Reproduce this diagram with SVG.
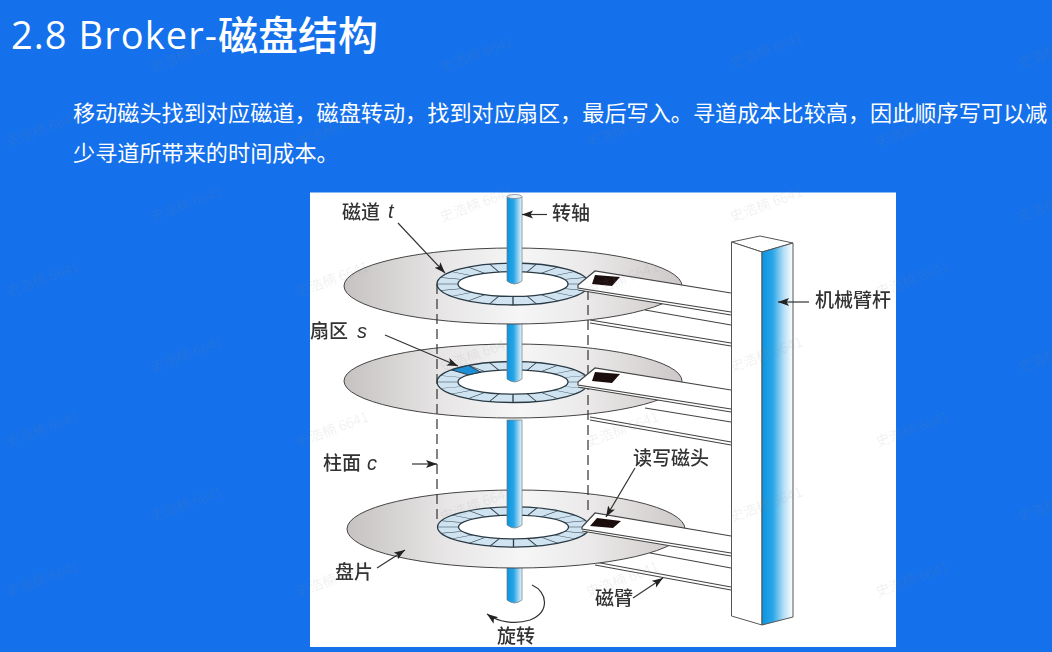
<svg xmlns="http://www.w3.org/2000/svg" xmlns:xlink="http://www.w3.org/1999/xlink" width="1052" height="652" viewBox="0 0 1052 652">
<style>
.title{font-family:"Open Sans","Noto Sans","Noto Sans CJK SC",sans-serif;font-size:38px;fill:#fff}
.titlecjk{font-family:"Noto Sans CJK SC",sans-serif;font-size:40px;font-weight:500;fill:#fff}
.body{font-family:"Noto Sans CJK SC",sans-serif;font-size:22.15px;fill:#fff}
.lab{font-family:"Noto Sans CJK SC",sans-serif;font-size:19px;font-weight:500;fill:#333}
.it{font-family:"Liberation Sans",sans-serif;font-size:20px;font-style:italic;fill:#333}
.wm{font-family:"Noto Sans CJK SC",sans-serif;font-size:14px;fill:#8a8a8a;fill-opacity:.13}
.pl{fill:url(#plate);stroke:#444;stroke-width:1}
.sp{fill:url(#spin);stroke:#777;stroke-width:.7}
.arm{fill:#fff;stroke:none}
.ln{fill:none;stroke:#444;stroke-width:1.2}
.head{fill:#1e0c0c}
.dash{fill:none;stroke:#333;stroke-width:1.2;stroke-dasharray:10 5}
.ar{fill:none;stroke:#333;stroke-width:1.2;marker-end:url(#ah)}
.r{vector-effect:non-scaling-stroke;stroke:#2a3a44;stroke-width:1.3}
</style>
<defs>
<linearGradient id="plate" x1="0" x2="1" y1="0" y2="0">
<stop offset="0" stop-color="#c6c2c2"/><stop offset=".3" stop-color="#e8e6e6"/><stop offset=".52" stop-color="#f6f6f6"/><stop offset=".72" stop-color="#ebe9e9"/><stop offset="1" stop-color="#cdc8c8"/>
</linearGradient>
<linearGradient id="spin" x1="0" x2="1" y1="0" y2="0">
<stop offset="0" stop-color="#0a95e0"/><stop offset=".45" stop-color="#2aa5e6"/><stop offset="1" stop-color="#e8f5fc"/>
</linearGradient>
<linearGradient id="col" x1="0" x2="1" y1="0" y2="0">
<stop offset="0" stop-color="#0a94e2"/><stop offset=".35" stop-color="#2aa6e8"/><stop offset=".7" stop-color="#b5def5"/><stop offset="1" stop-color="#fff"/>
</linearGradient>
<marker id="ah" markerUnits="userSpaceOnUse" markerWidth="12" markerHeight="10" refX="11" refY="4" orient="auto"><path d="M0 0L11 4L0 8L2.5 4Z" fill="#222"/></marker>
<filter id="soft" x="-2%" y="-2%" width="104%" height="104%"><feGaussianBlur stdDeviation=".45"/></filter>
<g id="ring">
<circle r="76" fill="#cfe3f1" class="r"/>
<g class="r">
<line x1="-76" x2="76"/><line x1="-76" x2="76" transform="rotate(18)"/><line x1="-76" x2="76" transform="rotate(36)"/><line x1="-76" x2="76" transform="rotate(54)"/><line x1="-76" x2="76" transform="rotate(72)"/><line x1="-76" x2="76" transform="rotate(90)"/><line x1="-76" x2="76" transform="rotate(108)"/><line x1="-76" x2="76" transform="rotate(126)"/><line x1="-76" x2="76" transform="rotate(144)"/><line x1="-76" x2="76" transform="rotate(162)"/>
</g>
<ellipse rx="55" ry="45" fill="#fff" class="r"/>
</g>
</defs>
<rect id="background" width="1052" height="652" fill="#1470eb"/>
<text class="title" x="11" y="49" textLength="206">2.8 Broker-</text>
<text class="titlecjk" x="218" y="50">磁盘结构</text>
<text class="body" x="73" y="121">移动磁头找到对应磁道，磁盘转动，找到对应扇区，最后写入。寻道成本比较高，因此顺序写可以减</text>
<text class="body" x="73" y="161">少寻道所带来的时间成本。</text>
<rect id="figure" x="310" y="192.5" width="586" height="454.5" fill="#fff"/>
<g filter="url(#soft)">
<g id="platter-3">
<path class="sp" d="M507 566V600Q514.500 606 522 600V566Z"/>
<path class="arm" d="M595 562L731 587V590L595 565Z M650 553L731 568V587L595 562Z"/>
<path class="ln" d="M650 553L731 568M595 562L731 587M595 565L731 590"/>
<ellipse class="pl" cx="516" cy="529" rx="169" ry="39"/>
<use xlink:href="#ring" href="#ring" transform="translate(513.500 527) scale(1 .265)"/>
<path class="sp" d="M507 420V525Q514.500 531 522 525V420Z"/>
</g>
<g id="platter-2">
<path class="arm" d="M590 417L731 442V445L590 420Z M645 408L731 422V442L590 417Z"/>
<path class="ln" d="M645 408L731 422M590 417L731 442M590 420L731 445"/>
<ellipse class="pl" cx="513" cy="381" rx="169" ry="37"/>
<use xlink:href="#ring" href="#ring" transform="translate(513 382) scale(1 .27)"/>
<polygon points="-61.500,-44.700 -44.700,-61.500 -32.300,-36.400 -44.500,-26.500" transform="translate(513 382) scale(1 .27)" fill="#1d8fd6" stroke="#2a3a44" stroke-width="1" vector-effect="non-scaling-stroke"/>
<path class="sp" d="M507 320V379Q514.500 385 522 379V320Z"/>
</g>
<g id="platter-1">
<path class="arm" d="M590 320L731 343V346L590 323Z M645 310L731 325V343L590 320Z"/>
<path class="ln" d="M645 310L731 325M590 320L731 343M590 323L731 346"/>
<ellipse class="pl" cx="513" cy="286" rx="169" ry="38"/>
<use xlink:href="#ring" href="#ring" transform="translate(513 284) scale(1 .276)"/>
<path class="sp" d="M507 197V281Q514.500 287 522 281V197Z"/>
<ellipse cx="514.500" cy="196.500" rx="7.500" ry="2" fill="#e6f3fa" stroke="#777" stroke-width=".7"/>
</g>
<g id="cylinder">
<path class="dash" d="M437 284V523M588 290V510"/>
</g>
<g id="arm-1">
<polygon class="arm" points="578,285 595,271 731,293 731,315 578,290"/>
<path class="ln" d="M578 285L595 271L731 293M578 285L578 288L731 312M578 290L731 315"/>
<polygon class="head" points="595,275 620,277 612,286 592,284"/>
</g>
<g id="arm-2">
<polygon class="arm" points="578,382 595,368 731,390 731,412 578,387"/>
<path class="ln" d="M578 382L595 368L731 390M578 382L578 385L731 409M578 387L731 412"/>
<polygon class="head" points="595,372 620,374 612,383 592,381"/>
</g>
<g id="arm-3">
<polygon class="arm" points="582,527 595,513 731,536 731,556 582,531"/>
<path class="ln" d="M582 527L595 513L731 536M582 527L582 529L731 553M582 531L731 556"/>
<polygon class="head" points="597,518 621,521 613,528 590,526"/>
</g>
<g id="column">
<polygon points="731.500,242 760,236 793,243 762,252" fill="#fff" stroke="#555" stroke-width="1"/>
<polygon points="731.500,242 762,252 762,625 731.500,616" fill="#fff" stroke="#555" stroke-width="1"/>
<polygon points="762,252 793,243 793,617 762,625" fill="url(#col)" stroke="#555" stroke-width="1"/>
</g>
<g id="connectors">
<path class="ar" d="M398 223L445 273"/>
<path class="ar" d="M547 214.500H522"/>
<path class="ar" d="M809 302H778"/>
<path class="ar" d="M385 335L458 366"/>
<path class="ar" d="M412 464H437"/>
<path class="ar" d="M635 468L606 517"/>
<path class="ar" d="M633 598L663 578"/>
<path class="ar" d="M377 568L405 550"/>
<path class="ar" d="M532 585C548 592 550 612 530 620C515 625 498 622 487 614"/>
</g>
<g id="labels">
<text class="lab" x="342" y="219">磁道</text><text class="it" x="388" y="218">t</text>
<text class="lab" x="552" y="220">转轴</text>
<text class="lab" x="815" y="307">机械臂杆</text>
<text class="lab" x="310" y="338">扇区</text><text class="it" x="357" y="338">s</text>
<text class="lab" x="323" y="470">柱面</text><text class="it" x="367" y="470">c</text>
<text class="lab" x="633" y="465">读写磁头</text>
<text class="lab" x="335" y="579">盘片</text>
<text class="lab" x="595" y="605">磁臂</text>
<text class="lab" x="497" y="643">旋转</text>
</g>
</g>
<g id="watermarks">
<text class="wm" transform="translate(152 72) rotate(-20)">史浩楠 6641</text>
<text class="wm" transform="translate(442 72) rotate(-20)">史浩楠 6641</text>
<text class="wm" transform="translate(732 68) rotate(-20)">史浩楠 6641</text>
<text class="wm" transform="translate(1020 68) rotate(-20)">史浩楠 6641</text>
<text class="wm" transform="translate(8 147) rotate(-20)">史浩楠 6641</text>
<text class="wm" transform="translate(298 147) rotate(-20)">史浩楠 6641</text>
<text class="wm" transform="translate(588 147) rotate(-20)">史浩楠 6641</text>
<text class="wm" transform="translate(878 147) rotate(-20)">史浩楠 6641</text>
<text class="wm" transform="translate(152 222) rotate(-20)">史浩楠 6641</text>
<text class="wm" transform="translate(442 222) rotate(-20)">史浩楠 6641</text>
<text class="wm" transform="translate(732 222) rotate(-20)">史浩楠 6641</text>
<text class="wm" transform="translate(1020 222) rotate(-20)">史浩楠 6641</text>
<text class="wm" transform="translate(8 297) rotate(-20)">史浩楠 6641</text>
<text class="wm" transform="translate(298 297) rotate(-20)">史浩楠 6641</text>
<text class="wm" transform="translate(588 297) rotate(-20)">史浩楠 6641</text>
<text class="wm" transform="translate(878 297) rotate(-20)">史浩楠 6641</text>
<text class="wm" transform="translate(152 372) rotate(-20)">史浩楠 6641</text>
<text class="wm" transform="translate(442 372) rotate(-20)">史浩楠 6641</text>
<text class="wm" transform="translate(732 372) rotate(-20)">史浩楠 6641</text>
<text class="wm" transform="translate(1020 372) rotate(-20)">史浩楠 6641</text>
<text class="wm" transform="translate(8 447) rotate(-20)">史浩楠 6641</text>
<text class="wm" transform="translate(298 447) rotate(-20)">史浩楠 6641</text>
<text class="wm" transform="translate(588 447) rotate(-20)">史浩楠 6641</text>
<text class="wm" transform="translate(878 447) rotate(-20)">史浩楠 6641</text>
<text class="wm" transform="translate(152 522) rotate(-20)">史浩楠 6641</text>
<text class="wm" transform="translate(442 522) rotate(-20)">史浩楠 6641</text>
<text class="wm" transform="translate(732 522) rotate(-20)">史浩楠 6641</text>
<text class="wm" transform="translate(1020 522) rotate(-20)">史浩楠 6641</text>
<text class="wm" transform="translate(8 597) rotate(-20)">史浩楠 6641</text>
<text class="wm" transform="translate(298 597) rotate(-20)">史浩楠 6641</text>
<text class="wm" transform="translate(588 597) rotate(-20)">史浩楠 6641</text>
<text class="wm" transform="translate(878 597) rotate(-20)">史浩楠 6641</text>
</g>
</svg>
